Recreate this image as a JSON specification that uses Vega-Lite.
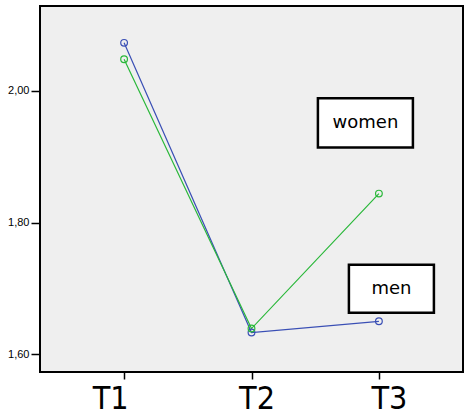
{
  "$schema": "https://vega.github.io/schema/vega-lite/v6.json",
  "autosize": "none",
  "width": 423,
  "height": 366,
  "padding": {"left": 40, "top": 6, "right": 1, "bottom": 38},
  "background": "white",
  "config": {
    "view": {"fill": "#efefef", "stroke": "#000000", "strokeWidth": 2},
    "axis": {"grid": false, "domain": false, "tickColor": "#000000", "tickWidth": 1.5, "labelColor": "#000000"}
  },
  "datasets": {
    "series": [
      {"time": "T1", "group": "men", "value": 2.073},
      {"time": "T2", "group": "men", "value": 1.633},
      {"time": "T3", "group": "men", "value": 1.650},
      {"time": "T1", "group": "women", "value": 2.048},
      {"time": "T2", "group": "women", "value": 1.639},
      {"time": "T3", "group": "women", "value": 1.844}
    ],
    "boxes": [
      {"label": "women", "time": "T3", "top": 1.989, "bottom": 1.914, "mid": 1.9515},
      {"label": "men", "time": "T3", "top": 1.736, "bottom": 1.663, "mid": 1.6995}
    ]
  },
  "encoding": {
    "x": {
      "field": "time", "type": "ordinal",
      "scale": {"type": "point", "domain": ["T1", "T2", "T3"], "padding": 0.66},
      "axis": {
        "title": null, "labelAngle": 0, "tickSize": 7, "labelPadding": 4,
        "labelFont": "DejaVu Sans Condensed", "labelFontSize": 32,
        "labelOffset": {"expr": "datum.value == 'T1' ? -14 : datum.value == 'T2' ? 5 : 10"}
      }
    }
  },
  "layer": [
    {
      "data": {"name": "series"},
      "mark": {"type": "line", "strokeWidth": 1.2},
      "encoding": {
        "y": {
          "field": "value", "type": "quantitative",
          "scale": {"domain": [1.573, 2.129], "nice": false, "zero": false},
          "axis": {
            "title": null, "values": [1.6, 1.8, 2.0], "tickSize": 9, "labelPadding": 2,
            "labelFont": "Liberation Sans", "labelFontSize": 11,
            "labelExpr": "replace(format(datum.value, '.2f'), '.', ',')"
          }
        },
        "color": {
          "field": "group", "type": "nominal",
          "scale": {"domain": ["men", "women"], "range": ["#3a4fb5", "#2ab83a"]},
          "legend": null
        }
      }
    },
    {
      "data": {"name": "series"},
      "mark": {"type": "point", "filled": false, "size": 45, "strokeWidth": 1.2, "opacity": 1},
      "encoding": {
        "y": {"field": "value", "type": "quantitative"},
        "color": {"field": "group", "type": "nominal", "legend": null}
      }
    },
    {
      "data": {"name": "boxes"},
      "mark": {"type": "bar", "width": 95, "fill": "white", "stroke": "#000000", "strokeWidth": 2.5, "xOffset": -13.5},
      "transform": [{"filter": "datum.label == 'women'"}],
      "encoding": {
        "y": {"field": "top", "type": "quantitative"},
        "y2": {"field": "bottom"}
      }
    },
    {
      "data": {"name": "boxes"},
      "mark": {"type": "bar", "width": 85, "fill": "white", "stroke": "#000000", "strokeWidth": 2.5, "xOffset": 12.5},
      "transform": [{"filter": "datum.label == 'men'"}],
      "encoding": {
        "y": {"field": "top", "type": "quantitative"},
        "y2": {"field": "bottom"}
      }
    },
    {
      "data": {"name": "boxes"},
      "mark": {"type": "text", "font": "DejaVu Sans", "fontSize": 18, "color": "#000000", "baseline": "middle", "align": "center", "xOffset": -13.5},
      "transform": [{"filter": "datum.label == 'women'"}],
      "encoding": {
        "y": {"field": "mid", "type": "quantitative"},
        "text": {"field": "label"}
      }
    },
    {
      "data": {"name": "boxes"},
      "mark": {"type": "text", "font": "DejaVu Sans", "fontSize": 18, "color": "#000000", "baseline": "middle", "align": "center", "xOffset": 12.5},
      "transform": [{"filter": "datum.label == 'men'"}],
      "encoding": {
        "y": {"field": "mid", "type": "quantitative"},
        "text": {"field": "label"}
      }
    }
  ]
}
